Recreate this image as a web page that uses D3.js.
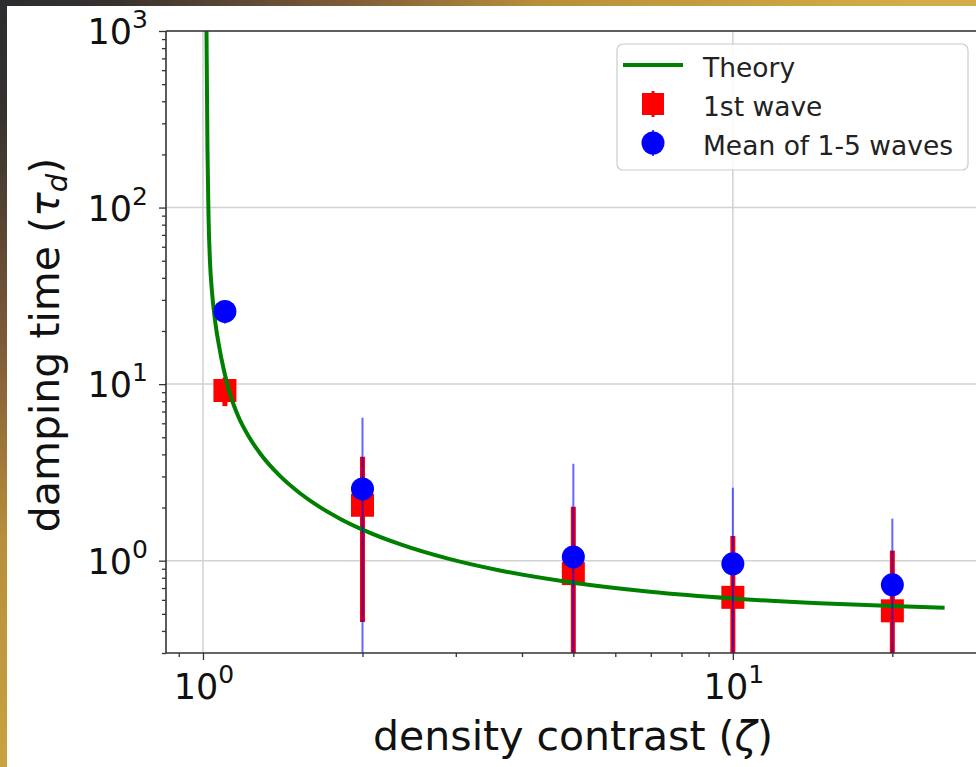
<!DOCTYPE html>
<html>
<head>
<meta charset="utf-8">
<script src="https://cdn.jsdelivr.net/npm/d3@7"></script>
<style>
  body { margin: 0; background: #222; }
  svg { display: block; font-family: "DejaVu Sans", sans-serif; }
</style>
</head>
<body>
<div id="container"></div>
<script>
// measured points, density contrast on x
const zeta = [1.1, 2, 5, 10, 20];
const firstWave = [9.2, 2.06, 0.845, 0.62, 0.52];
const firstLow = [7.5, 0.45, 0, 0, 0]; // 0 -> bar runs below the axis
const firstHigh = [10.9, 3.88, 2.02, 1.38, 1.14];
const meanWaves = [25.8, 2.55, 1.05, 0.96, 0.73];
const meanLow = [22, 0, 0, 0, 0];
const meanHigh = [29.5, 6.45, 3.54, 2.59, 1.73];
// theory curve
const theoryZeta = [1.0153, 1.0197, 1.0242, 1.0309, 1.0399, 1.0535, 1.072, 1.0956, 1.1245, 1.1643, 1.216, 1.281,
  1.397, 1.524, 1.662, 1.813, 2.0, 2.353, 2.925, 3.634, 5.0, 6.975, 10, 14.57, 20, 25.1];
const theoryTau = [1000, 212, 90.8, 49.2, 33.3, 23.1, 16.5, 11.9, 8.81, 6.62, 5.13, 4.06,
  3.02, 2.41, 2.01, 1.73, 1.50, 1.24, 1.02, 0.88, 0.75, 0.667, 0.611, 0.574, 0.553, 0.542];
const xMajor = [1, 10];
const yMajor = [1, 10, 100, 1000];
const legendLabels = ["Theory", "1st wave", "Mean of 1-5 waves"];

const width = 976, height = 767;
const plot = { left: 166, right: 981, top: 31, bottom: 653 };

const svg = d3.select("#container").append("svg")
  .attr("width", width).attr("height", height);

// frame background
const defs = svg.append("defs");
const grad = defs.append("radialGradient").attr("id", "bg")
  .attr("gradientUnits", "userSpaceOnUse")
  .attr("cx", 0).attr("cy", 0).attr("r", 900);
[[0, "#2c2c30"], [0.12, "#35312f"], [0.38, "#7d5a37"], [0.6, "#b88f3a"], [1, "#d2ad45"]]
  .forEach(s => grad.append("stop").attr("offset", s[0]).attr("stop-color", s[1]));
defs.append("clipPath").attr("id", "clip").append("rect")
  .attr("x", plot.left).attr("y", plot.top)
  .attr("width", plot.right - plot.left).attr("height", plot.bottom - plot.top);

svg.append("rect").attr("width", width).attr("height", height).attr("fill", "url(#bg)");
svg.append("rect").attr("x", 7).attr("y", 6).attr("width", width - 7).attr("height", height - 6)
  .attr("fill", "#fff");

const x = d3.scaleLog().domain([0.8515, 29.4]).range([plot.left, plot.right]);
const y = d3.scaleLog().domain([0.3, 1000]).range([plot.bottom, plot.top]);
const yMin = y.domain()[0];

// grid
const grid = svg.append("g").attr("stroke", "#d2d2d2").attr("stroke-width", 1.5);
grid.selectAll(".gx").data(xMajor).join("line")
  .attr("x1", d => x(d)).attr("x2", d => x(d)).attr("y1", plot.top).attr("y2", plot.bottom);
grid.selectAll(".gy").data(yMajor).join("line")
  .attr("y1", d => y(d)).attr("y2", d => y(d)).attr("x1", plot.left).attr("x2", plot.right);

// ticks
const isPow = v => Math.abs(Math.log10(v) - Math.round(Math.log10(v))) < 1e-6;
const xMinor = x.ticks().filter(v => !isPow(v));
const yMinor = y.ticks().filter(v => !isPow(v));

function styleAxis(g) {
  g.select(".domain").remove();
  g.selectAll("line").attr("stroke", "#333").attr("stroke-width", 1.3);
}
svg.append("g").attr("transform", `translate(0,${plot.bottom})`)
  .call(d3.axisBottom(x).tickValues(xMinor).tickSize(4).tickFormat("")).call(styleAxis);
svg.append("g").attr("transform", `translate(0,${plot.bottom})`)
  .call(d3.axisBottom(x).tickValues(xMajor).tickSize(7).tickFormat("")).call(styleAxis);
svg.append("g").attr("transform", `translate(${plot.left},0)`)
  .call(d3.axisLeft(y).tickValues(yMinor).tickSize(4).tickFormat("")).call(styleAxis);
svg.append("g").attr("transform", `translate(${plot.left},0)`)
  .call(d3.axisLeft(y).tickValues(yMajor).tickSize(7).tickFormat("")).call(styleAxis);

// tick labels with superscripts
function powLabel(sel, v) {
  sel.append("tspan").text("10");
  sel.append("tspan").attr("font-size", 25).attr("dy", -16).text(Math.round(Math.log10(v)));
}
svg.append("g").selectAll("text").data(xMajor).join("text")
  .attr("x", d => x(d) + 1).attr("y", 699).attr("text-anchor", "middle")
  .attr("font-size", 35).attr("fill", "#111")
  .each(function (d) { powLabel(d3.select(this), d); });
svg.append("g").selectAll("text").data(yMajor).join("text")
  .attr("x", 148).attr("y", d => y(d) + 13).attr("text-anchor", "end")
  .attr("font-size", 35).attr("fill", "#111")
  .each(function (d) { powLabel(d3.select(this), d); });

// axis titles
const xt = svg.append("text").attr("x", 573).attr("y", 750).attr("text-anchor", "middle")
  .attr("font-size", 41).attr("fill", "#111");
xt.append("tspan").text("density contrast (");
xt.append("tspan").attr("font-style", "italic").text("ζ");
xt.append("tspan").text(")");

const yt = svg.append("text").attr("transform", "translate(59,345) rotate(-90)")
  .attr("text-anchor", "middle").attr("font-size", 41).attr("fill", "#111");
yt.append("tspan").text("damping time (");
yt.append("tspan").attr("font-style", "italic").text("τ");
yt.append("tspan").attr("font-style", "italic").attr("font-size", 29).attr("dy", 8).text("d");
yt.append("tspan").attr("dy", -8).text(")");

// data layer
const pts = zeta.map((z, i) => ({
  z, f: firstWave[i], fLo: firstLow[i], fHi: firstHigh[i],
  m: meanWaves[i], mLo: meanLow[i], mHi: meanHigh[i]
}));
const layer = svg.append("g").attr("clip-path", "url(#clip)");

layer.selectAll(".ebr").data(pts).join("line")
  .attr("x1", d => x(d.z)).attr("x2", d => x(d.z))
  .attr("y1", d => y(Math.max(d.fLo, yMin))).attr("y2", d => y(d.fHi))
  .attr("stroke", "#ff0000").attr("stroke-width", 5);
const sq = 23;
layer.selectAll(".sq").data(pts).join("rect")
  .attr("x", d => x(d.z) - sq / 2).attr("y", d => y(d.f) - sq / 2)
  .attr("width", sq).attr("height", sq).attr("fill", "#ff0000");

const line = d3.line().x(d => x(d[0])).y(d => y(d[1])).curve(d3.curveMonotoneX);
layer.append("path").datum(theoryZeta.map((z, i) => [z, theoryTau[i]]))
  .attr("d", line).attr("fill", "none").attr("stroke", "#008000").attr("stroke-width", 4);

layer.selectAll(".ebb").data(pts).join("line")
  .attr("x1", d => x(d.z)).attr("x2", d => x(d.z))
  .attr("y1", d => y(Math.max(d.mLo, yMin))).attr("y2", d => y(d.mHi))
  .attr("stroke", "#0000ff").attr("stroke-opacity", 0.6).attr("stroke-width", 2);
layer.selectAll(".ci").data(pts).join("circle")
  .attr("cx", d => x(d.z)).attr("cy", d => y(d.m)).attr("r", 11.5).attr("fill", "#0000ff");

// spines
const sp = svg.append("g").attr("stroke", "#333").attr("stroke-width", 1.6);
sp.append("line").attr("x1", plot.left).attr("x2", plot.left).attr("y1", plot.top).attr("y2", plot.bottom);
sp.append("line").attr("x1", plot.left).attr("x2", plot.right).attr("y1", plot.bottom).attr("y2", plot.bottom);
sp.append("line").attr("x1", plot.left).attr("x2", plot.right).attr("y1", plot.top).attr("y2", plot.top);
sp.append("line").attr("x1", plot.right).attr("x2", plot.right).attr("y1", plot.top).attr("y2", plot.bottom);

// legend
const lg = svg.append("g").attr("transform", "translate(617,44)");
lg.append("rect").attr("width", 351).attr("height", 126).attr("rx", 6)
  .attr("fill", "#fff").attr("fill-opacity", 0.85).attr("stroke", "#cccccc").attr("stroke-width", 1.2);
const rows = lg.selectAll(".row").data(legendLabels).join("g")
  .attr("transform", (d, i) => `translate(0,${21 + i * 39})`);
rows.append("text").attr("x", 86).attr("y", 12).attr("font-size", 26.5).attr("fill", "#222").text(d => d);
rows.filter((d, i) => i === 0).append("line")
  .attr("x1", 6).attr("x2", 66).attr("y1", 0).attr("y2", 0)
  .attr("stroke", "#008000").attr("stroke-width", 4);
const r1 = rows.filter((d, i) => i === 1);
r1.append("line").attr("x1", 36).attr("x2", 36).attr("y1", -13).attr("y2", 13)
  .attr("stroke", "#ff0000").attr("stroke-width", 3);
r1.append("rect").attr("x", 25).attr("y", -11).attr("width", 22).attr("height", 22).attr("fill", "#ff0000");
const r2 = rows.filter((d, i) => i === 2);
r2.append("line").attr("x1", 36).attr("x2", 36).attr("y1", -13).attr("y2", 13)
  .attr("stroke", "#0000ff").attr("stroke-width", 1.5);
r2.append("circle").attr("cx", 36).attr("cy", 0).attr("r", 11.5).attr("fill", "#0000ff");
</script>
</body>
</html>
